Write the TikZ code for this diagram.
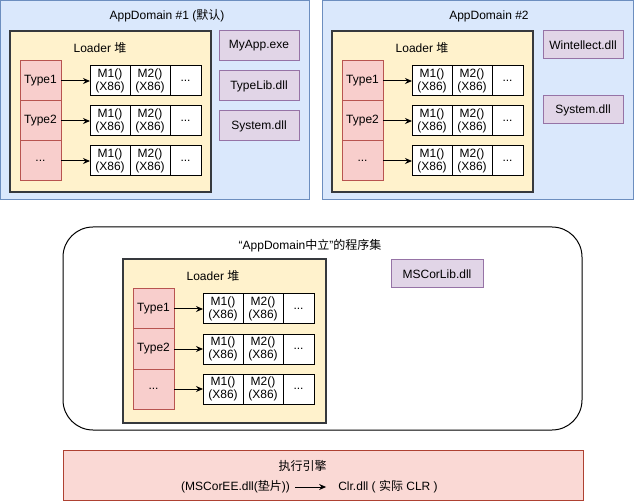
\documentclass[tikz,border=0pt]{standalone}
\usepackage{fontspec}
\setmainfont{Liberation Sans}
\newfontfamily\cjk{Noto Sans CJK SC}
\usetikzlibrary{arrows.meta}
\definecolor{bluefill}{HTML}{DAE8FC}
\definecolor{bluedraw}{HTML}{6C8EBF}
\definecolor{yelfill}{HTML}{FFF2CC}
\definecolor{yeldraw}{HTML}{36393D}
\definecolor{redfill}{HTML}{F8CECC}
\definecolor{reddraw}{HTML}{B85450}
\definecolor{purfill}{HTML}{E1D5E7}
\definecolor{purdraw}{HTML}{9673A6}
\definecolor{engfill}{HTML}{FAD9D5}
\definecolor{engdraw}{HTML}{AE4132}
\tikzset{
  base/.style={inner sep=0pt, outer sep=0pt, line width=1pt, anchor=north west},
  domainbox/.style={base, fill=bluefill, draw=bluedraw},
  loaderbox/.style={base, fill=yelfill, draw=yeldraw, line width=2pt},
  typecell/.style={base, fill=redfill, draw=reddraw, minimum width=41pt, minimum height=40pt},
  mcell/.style={base, fill=white, draw=black, minimum height=30pt, align=center},
  dllbox/.style={base, fill=purfill, draw=purdraw},
  engbox/.style={base, fill=engfill, draw=engdraw},
  lbl/.style={inner sep=0pt, anchor=center},
  arr/.style={-{Stealth[length=7pt,width=6pt]}, line width=1pt},
}
\newcommand{\loaderblock}[5]{%
\begin{scope}[shift={(#2,#3)}]
  \node[loaderbox, minimum width=#4pt, minimum height=#5pt] (#1L) at (0,0) {};
  \node[lbl] (#1Ltxt) at (90,16.5) {Loader {\cjk 堆}};
  \node[typecell] (#1t1) at (10,30) {Type1};
  \node[typecell] (#1t2) at (10,70) {Type2};
  \node[typecell] (#1t3) at (10,110) {...};
  \foreach \r/\yy in {1/35,2/75,3/115}{
    \node[mcell, minimum width=40pt] (#1a\r) at (80,\yy) {M1()\\(X86)};
    \node[mcell, minimum width=40pt] (#1b\r) at (120,\yy) {M2()\\(X86)};
    \node[mcell, minimum width=31pt] (#1c\r) at (160,\yy) {...};
    \draw[arr] (#1t\r.east) -- (#1a\r.west);
  }
\end{scope}}
\begin{document}
\begin{tikzpicture}[x=1pt,y=-1pt, font=\fontsize{12}{13}\selectfont]
\useasboundingbox (0,0) rectangle (634,502);
% AppDomain 1
\node[domainbox, minimum width=308.5pt, minimum height=199.5pt] (d1) at (0.5,0.5) {};
\node[lbl] (d1t) at (167,16) {AppDomain \#1 ({\cjk 默认})};
\loaderblock{A}{10}{31}{201}{161}
\node[dllbox, minimum width=80pt, minimum height=30pt] (myapp) at (219,31) {MyApp.exe};
\node[dllbox, minimum width=80pt, minimum height=30pt] (typelib) at (219,71) {TypeLib.dll};
\node[dllbox, minimum width=80pt, minimum height=30pt] (sys1) at (219,111) {System.dll};
% AppDomain 2
\node[domainbox, minimum width=311pt, minimum height=199.5pt] (d2) at (322.5,0.5) {};
\node[lbl] (d2t) at (489,16) {AppDomain \#2};
\loaderblock{B}{332}{31}{201}{161}
\node[dllbox, minimum width=80pt, minimum height=28pt] (wint) at (543,31) {Wintellect.dll};
\node[dllbox, minimum width=80pt, minimum height=28pt] (sys2) at (543,96) {System.dll};
% neutral
\node[base, draw=black, fill=white, rounded corners=30pt, minimum width=519pt, minimum height=203pt] (neu) at (63,227) {};
\node[lbl] (neut) at (310,246) {“AppDomain{\cjk 中立}”{\cjk 的程序集}};
\loaderblock{C}{123}{259}{203}{164}
\node[dllbox, minimum width=92pt, minimum height=28pt] (mscorlib) at (391,260) {MSCorLib.dll};
% engine
\node[engbox, minimum width=520pt, minimum height=50pt] (eng) at (63,450) {};
\node[lbl] (engt) at (302.5,466) {{\cjk 执行引擎}};
\node[lbl] (shim) at (235.5,487) {(MSCorEE.dll({\cjk 垫片}))};
\node[lbl] (clr) at (388,487) {Clr.dll ( {\cjk 实际} CLR )};
\draw[arr, shorten <=5pt, shorten >=12pt] (shim.east) -- (clr.west);
\end{tikzpicture}
\end{document}
